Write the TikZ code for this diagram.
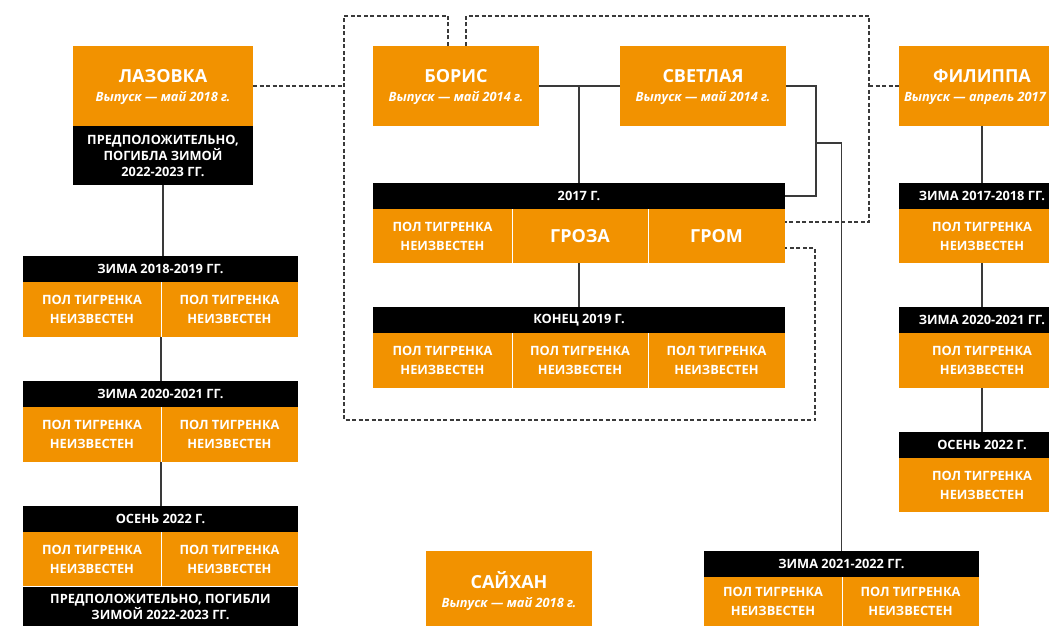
\documentclass[tikz,border=0pt]{standalone}
\usepackage{fontspec}
\setmainfont{Open Sans}
\definecolor{org}{HTML}{F29200}
\definecolor{ln}{HTML}{3A3A3A}
\newcommand\pti{ПОЛ ТИГРЕНКА\\НЕИЗВЕСТЕН}
\tikzset{
 base/.style={inner sep=0pt,outer sep=0pt,text=white,align=center},
 ob/.style={base,fill=org},
 bb/.style={base,fill=black},
 wh/.style 2 args={minimum width=#1pt,minimum height=#2pt},
 cell/.style={ob,font=\bfseries\fontsize{12.8}{19}\selectfont},
 bigcell/.style={ob,font=\bfseries\fontsize{18}{20}\selectfont},
 hdr/.style={bb,font=\bfseries\fontsize{12.8}{15}\selectfont},
 note/.style={bb,font=\bfseries\fontsize{12.8}{16}\selectfont},
 ttlt/.style={base,anchor=base,font=\bfseries\fontsize{18}{20}\selectfont},
 subt/.style={base,anchor=base,font=\bfseries\itshape\fontsize{12.8}{15}\selectfont},
 conn/.style={draw=ln,line width=1.5pt},
 dsh/.style={draw=ln,line width=1.2pt,dash pattern=on 4pt off 2.5pt},
 div/.style={draw=white,line width=1pt},
}
\begin{document}
\begin{tikzpicture}[x=1pt,y=-1pt]
\useasboundingbox (0,0) rectangle (1049,626);
\clip (0,0) rectangle (1049,626);

% ---- Lazovka column
\node[ob,wh={180}{80}] (laz) at (163,86) {};
\node[ttlt] (lazt) at (163,82.7) {ЛАЗОВКА};
\node[subt] (lazs) at (163,101.7) {Выпуск — май 2018 г.};
\node[note,wh={180}{59}] (lazb) at (163,155.5) {ПРЕДПОЛОЖИТЕЛЬНО,\\ПОГИБЛА ЗИМОЙ\\2022-2023 ГГ.};

\node[hdr,wh={275}{26}] (l1h) at (160.5,269) {ЗИМА 2018-2019 ГГ.};
\node[cell,wh={138}{55}] (l1a) at (92,309.5) {\pti};
\node[cell,wh={137}{55}] (l1b) at (229.5,309.5) {\pti};

\node[hdr,wh={275}{26}] (l2h) at (160.5,394) {ЗИМА 2020-2021 ГГ.};
\node[cell,wh={138}{55}] (l2a) at (92,434.5) {\pti};
\node[cell,wh={137}{55}] (l2b) at (229.5,434.5) {\pti};

\node[hdr,wh={275}{26}] (l3h) at (160.5,519) {ОСЕНЬ 2022 Г.};
\node[cell,wh={138}{54}] (l3a) at (92,559) {\pti};
\node[cell,wh={137}{54}] (l3b) at (229.5,559) {\pti};
\node[note,wh={275}{40}] (l3n) at (160.5,606.5) {ПРЕДПОЛОЖИТЕЛЬНО, ПОГИБЛИ\\ЗИМОЙ 2022-2023 ГГ.};

% ---- Boris & Svetlaya
\node[ob,wh={166}{80}] (bor) at (456,86) {};
\node[ttlt] (bort) at (456,82.7) {БОРИС};
\node[subt] (bors) at (456,101.7) {Выпуск — май 2014 г.};
\node[ob,wh={166}{80}] (svet) at (703,86) {};
\node[ttlt] (svett) at (703,82.7) {СВЕТЛАЯ};
\node[subt] (svets) at (703,101.7) {Выпуск — май 2014 г.};

\node[hdr,wh={412}{26}] (g17h) at (579,196) {2017 Г.};
\node[cell,wh={139}{54}] (g17a) at (442.5,236) {\pti};
\node[bigcell,wh={136}{54}] (g17b) at (580,236) {ГРОЗА};
\node[bigcell,wh={137}{54}] (g17c) at (716.5,236) {ГРОМ};

\node[hdr,wh={412}{26}] (k19h) at (579,320) {КОНЕЦ 2019 Г.};
\node[cell,wh={139}{55}] (k19a) at (442.5,360.5) {\pti};
\node[cell,wh={136}{55}] (k19b) at (580,360.5) {\pti};
\node[cell,wh={137}{55}] (k19c) at (716.5,360.5) {\pti};

% ---- Filippa column
\node[ob,wh={166}{80}] (fil) at (982,86) {};
\node[ttlt] (filt) at (982,82.7) {ФИЛИППА};
\node[subt,anchor=base west] (fils) at (904,101.7) {Выпуск — апрель 2017};

\node[hdr,wh={166}{26}] (f1h) at (982,196) {ЗИМА 2017-2018 ГГ.};
\node[cell,wh={166}{54}] (f1a) at (982,236) {\pti};
\node[hdr,wh={166}{26}] (f2h) at (982,320) {ЗИМА 2020-2021 ГГ.};
\node[cell,wh={166}{55}] (f2a) at (982,360.5) {\pti};
\node[hdr,wh={166}{26}] (f3h) at (982,445) {ОСЕНЬ 2022 Г.};
\node[cell,wh={166}{54}] (f3a) at (982,485) {\pti};

% ---- Winter 2021-2022
\node[hdr,wh={275}{26}] (w21h) at (841.5,564) {ЗИМА 2021-2022 ГГ.};
\node[cell,wh={138}{49}] (w21a) at (773,601.5) {\pti};
\node[cell,wh={137}{49}] (w21b) at (910.5,601.5) {\pti};

% ---- Saihan
\node[ob,wh={166}{75}] (sai) at (509,588.5) {};
\node[ttlt] (sait) at (509,588.5) {САЙХАН};
\node[subt] (sais) at (509,607) {Выпуск — май 2018 г.};

% ---- white dividers
\foreach \c in {l1a,l2a,l3a,g17a,g17b,k19a,k19b,w21a}
  \draw[div] (\c.north east) -- (\c.south east);

% ---- solid connectors
\draw[conn] (lazb.south) -- (lazb.south |- l1h.north);
\draw[conn] (l1a.south east) -- (l1a.south east |- l2h.north);
\draw[conn] (l2a.south east) -- (l2a.south east |- l3h.north);

\draw[conn] (bor.east) -- (svet.west);
\draw[conn] (g17h.north |- bor.east) -- (g17h.north);
\draw[conn] (g17b.south -| g17h.north) -- (k19h.north);

\coordinate (sv1) at (816,86);
\coordinate (sv2) at (816,143);
\draw[conn] (svet.east) -- (sv1) |- (g17h.east);
\draw[conn] (sv2) -| (w21h.north);

\draw[conn] (fil.south) -- (f1h.north);
\draw[conn] (f1a.south) -- (f2h.north);
\draw[conn] (f2a.south) -- (f3h.north);

% ---- dashed connectors
\coordinate (dl) at (344,86);
\coordinate (dtl) at (344,16);
\coordinate (dbl) at (344,420);
\coordinate (dbr) at (815,420);
\coordinate (dtr) at (869,16);
\coordinate (dfr) at (869,86);
\draw[dsh] (laz.east) -- (dl);
\draw[dsh] ([xshift=-8pt]bor.north) |- (dtl) -- (dbl) -- (dbr) |- ([yshift=-12pt]g17c.east);
\draw[dsh] ([xshift=10pt]bor.north) |- (dtr) |- ([yshift=14pt]g17c.east);
\draw[dsh] (dfr) -- (fil.west);
\end{tikzpicture}
\end{document}
